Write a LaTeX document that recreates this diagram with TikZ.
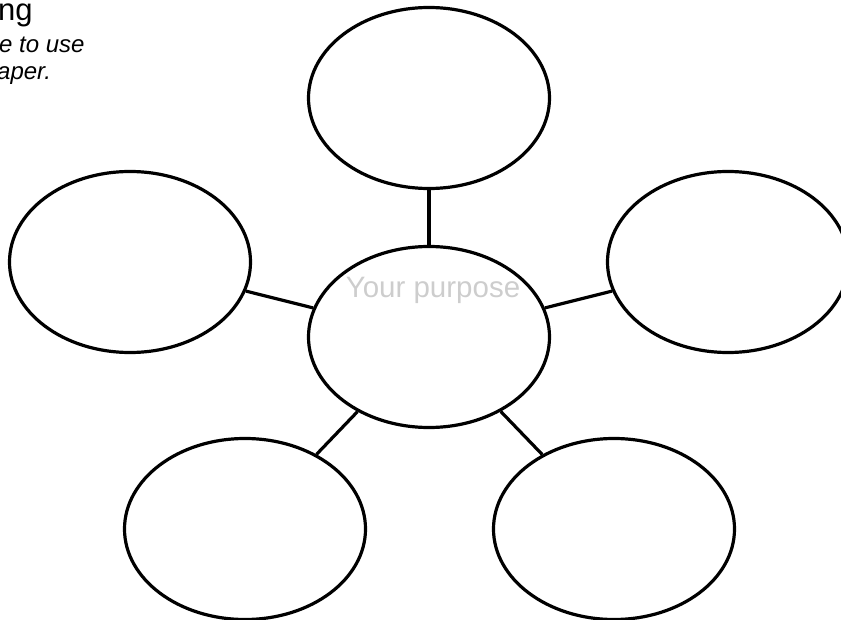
\documentclass[tikz,border=0pt]{standalone}
\usepackage{fontspec}
\setmainfont{Liberation Sans}
\usepackage{tikz}
\usetikzlibrary{shapes.geometric}

\definecolor{hintgrey}{RGB}{205,205,205}

\begin{document}
\begin{tikzpicture}[x=1pt, y=1pt,
        bubble/.style={draw, ellipse, line width=3.2pt, minimum width=241pt, minimum height=181pt, inner sep=0pt},
        link/.style={line width=3.2pt},
        words/.style={anchor=base west, inner sep=0pt}]
        \path[use as bounding box, clip] (0,0) rectangle (841,-620);

        \node[words, font=\fontsize{31}{37}\selectfont] (title) at (-2,-21) {ng};
        \node[words, font=\fontsize{24}{27}\selectfont\itshape] (hintone) at (-1,-53) {e to use};
        \node[words, font=\fontsize{24}{27}\selectfont\itshape] (hinttwo) at (-3,-80) {aper.};

        \node[bubble] (purpose) at (429,-337) {};
        \node[bubble] (top) at (429,-98) {};
        \node[bubble] (left) at (130,-262) {};
        \node[bubble] (right) at (728,-262) {};
        \node[bubble] (lowleft) at (245,-529) {};
        \node[bubble] (lowright) at (614,-529) {};

        \node[anchor=base, inner sep=0pt, text=hintgrey, font=\fontsize{29.5}{35}\selectfont] (purposetext) at (433,-298) {Your purpose};

        \draw[link] (purpose) -- (top);
        \draw[link] (purpose) -- (left);
        \draw[link] (purpose) -- (right);
        \draw[link] (purpose) -- (lowleft);
        \draw[link] (purpose) -- (lowright);
\end{tikzpicture}
\end{document}
